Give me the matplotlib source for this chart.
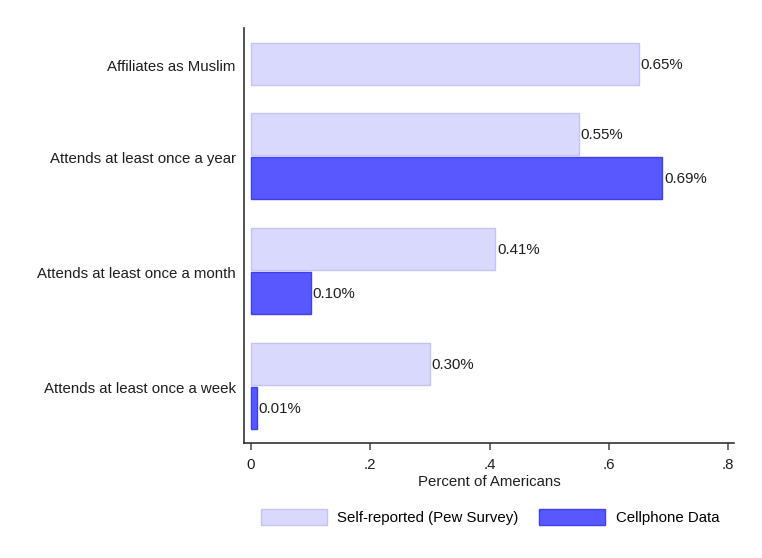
import numpy as np
import matplotlib.pyplot as plt
from matplotlib.patches import Patch

plt.rcParams['font.family'] = ['Liberation Sans', 'DejaVu Sans']

# data (percent of Americans)
categories = ["Affiliates as Muslim",
              "Attends at least once a year",
              "Attends at least once a month",
              "Attends at least once a week"]
self_reported = [0.65, 0.55, 0.41, 0.30]
cellphone = [np.nan, 0.69, 0.10, 0.01]
series_names = ["Self-reported (Pew Survey)", "Cellphone Data"]
xticks = [0, 0.2, 0.4, 0.6, 0.8]
xtick_labels = ["0", ".2", ".4", ".6", ".8"]

light = "#d9d9fd"
light_edge = "#c3c3fa"
dark = "#5858ff"
dark_edge = "#3f3fee"
txt = "#1e1e1e"
fs = 10.8

fig = plt.figure(figsize=(7.62, 5.58), dpi=100)
ax = fig.add_axes([244 / 762, 1 - 443 / 558, 490 / 762, 415 / 558])

# group centers (in slot units, downward); first group only has one bar
centers = np.array([-0.8 + 0.191, 0.0, 1.0, 2.0])
h = 0.365
off = 0.191

for i, cat in enumerate(categories):
    sv = self_reported[i]
    cv = cellphone[i]
    ys = centers[i] - off
    ax.barh(ys, sv, height=h, color=light, edgecolor=light_edge, linewidth=1)
    ax.text(sv + 0.003, ys + 0.01, f"{sv:.2f}%", va="center", ha="left",
            fontsize=fs, color=txt)
    if not np.isnan(cv):
        yc = centers[i] + off
        ax.barh(yc, cv, height=h, color=dark, edgecolor=dark_edge, linewidth=1)
        ax.text(cv + 0.003, yc + 0.01, f"{cv:.2f}%", va="center", ha="left",
                fontsize=fs, color=txt)

label_pos = centers.copy() + 0.01
label_pos[0] = centers[0] - off + 0.01
ax.set_yticks(label_pos)
ax.set_yticklabels(categories, fontsize=fs, color=txt)
ax.tick_params(axis="y", length=0, pad=6)

ax.set_xticks(xticks)
ax.set_xticklabels(xtick_labels, fontsize=fs, color=txt)
ax.tick_params(axis="x", length=5, width=1.2, color="#555555", pad=6)
ax.set_xlim(-0.0117, 0.81)
ax.set_ylim(2.496, -1.113)
ax.set_xlabel("Percent of Americans", fontsize=fs, color=txt, labelpad=2)

for s in ["top", "right"]:
    ax.spines[s].set_visible(False)
for s in ["left", "bottom"]:
    ax.spines[s].set_color("#333333")
    ax.spines[s].set_linewidth(1.2)

handles = [Patch(facecolor=light, edgecolor=light_edge),
           Patch(facecolor=dark, edgecolor=dark_edge)]
fig.legend(handles, series_names, loc="center", bbox_to_anchor=(490 / 762, 1 - 517 / 558),
           ncol=2, frameon=False, fontsize=fs, handlelength=4.4, handleheight=1.25,
           columnspacing=1.4, handletextpad=0.7)

fig.savefig("out.png", dpi=100)
